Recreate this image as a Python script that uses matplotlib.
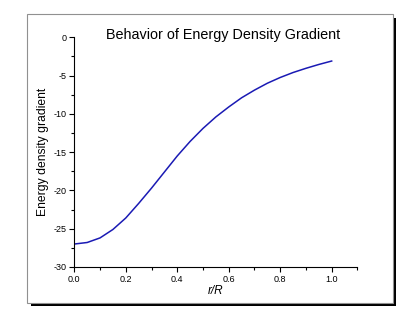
import matplotlib
matplotlib.use('Agg')
import matplotlib.pyplot as plt
from matplotlib.patches import Rectangle
from matplotlib.ticker import MultipleLocator

plt.rcParams['font.family'] = ['Liberation Sans', 'DejaVu Sans']

# values
r_over_R = [0.0, 0.05, 0.1, 0.15, 0.2, 0.25, 0.3, 0.35, 0.4, 0.45, 0.5,
            0.55, 0.6, 0.65, 0.7, 0.75, 0.8, 0.85, 0.9, 0.95, 1.0]
gradient = [-27.0, -26.8, -26.2, -25.1, -23.6, -21.7, -19.7, -17.6, -15.5, -13.6, -11.9,
            -10.4, -9.1, -7.9, -6.9, -6.0, -5.25, -4.6, -4.05, -3.55, -3.1]

W, H = 415, 321
fig = plt.figure(figsize=(W / 100, H / 100), dpi=100)

# panel with drop shadow
px0, py0, px1, py1 = 27, 14, 392.5, 302.5
off = 3.5
fig.patches.append(Rectangle(((px0 + off) / W, 1 - (py1 + off) / H), (px1 - px0) / W, (py1 - py0) / H,
                             transform=fig.transFigure, facecolor='black', edgecolor='none', zorder=-2))
fig.patches.append(Rectangle((px0 / W, 1 - py1 / H), (px1 - px0) / W, (py1 - py0) / H,
                             transform=fig.transFigure, facecolor='white', edgecolor='#909090',
                             linewidth=0.8, zorder=-1))

ax = fig.add_axes([74.3 / W, 1 - 267 / H, (357.4 - 74.3) / W, (267 - 37.3) / H])
ax.set_zorder(3)
ax.patch.set_alpha(0)
ax.plot(r_over_R, gradient, color='#1a1ab4', linewidth=1.1)

ax.set_xlim(0, 1.1)
ax.set_ylim(-30, 0)
ax.xaxis.set_major_locator(MultipleLocator(0.2))
ax.xaxis.set_minor_locator(MultipleLocator(0.1))
ax.yaxis.set_major_locator(MultipleLocator(5))
ax.yaxis.set_minor_locator(MultipleLocator(2.5))
ax.set_xticks([0.0, 0.2, 0.4, 0.6, 0.8, 1.0])
ax.set_xticklabels(['0.0', '0.2', '0.4', '0.6', '0.8', '1.0'])
ax.set_yticks([0, -5, -10, -15, -20, -25, -30])
ax.set_yticklabels(['0', '-5', '-10', '-15', '-20', '-25', '-30'])

for s in ['top', 'right']:
    ax.spines[s].set_visible(False)
for s in ['left', 'bottom']:
    ax.spines[s].set_linewidth(0.8)

ax.tick_params(which='major', direction='out', length=3.5, width=0.8, labelsize=6.5, pad=2)
ax.tick_params(which='minor', direction='out', length=2, width=0.8)

ax.set_xlabel('r/R', fontsize=8.5, style='italic', labelpad=1)
ax.set_ylabel('Energy density gradient', fontsize=8.7, labelpad=3)

fig.text(223.5 / W, 1 - 35 / H, 'Behavior of Energy Density Gradient', fontsize=10.4,
         ha='center', va='center')

fig.savefig('out.png', dpi=100)
